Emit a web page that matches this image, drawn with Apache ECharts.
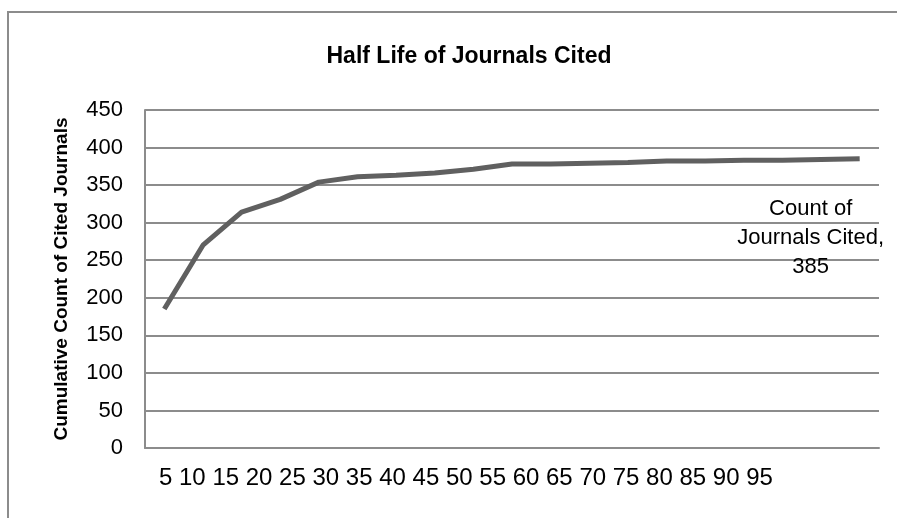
<!DOCTYPE html>
<html>
<head>
<meta charset="utf-8">
<script src="https://cdn.jsdelivr.net/npm/echarts@6/dist/echarts.min.js"></script>
<style>
  html, body { margin: 0; padding: 0; background: #fff; }
  #chart { width: 897px; height: 518px; }
</style>
</head>
<body>
<div id="chart"></div>
<script>
// half life categories (years)
var years = ['5','10','15','20','25','30','35','40','45','50','55','60','65','70','75','80','85','90','95'];
// cumulative count of cited journals
var counts = [185, 270, 314, 331, 354, 361, 363, 366, 371, 378, 378, 379, 380, 382, 382, 383, 383, 384, 385];
var yTicks = [0, 450, 50]; // min, max, interval

var font = "'Liberation Sans', Arial, sans-serif";
var chart = echarts.init(document.getElementById('chart'));

var data = counts.map(function (v, i) {
  if (i !== counts.length - 1) return v;
  // data label on last point, placed below like excel did
  return {
    value: v,
    label: {
      show: true,
      position: 'inside',
      offset: [-49, 79],
      formatter: function (p) { return 'Count of\nJournals Cited,\n' + p.value; },
      fontFamily: font,
      fontSize: 22,
      lineHeight: 29,
      color: '#000',
      align: 'center'
    }
  };
});

var option = {
  backgroundColor: '#fff',
  animation: false,
  title: {
    text: 'Half Life of Journals Cited',
    left: 464,
    top: 40,
    textAlign: 'center',
    textStyle: { fontFamily: font, fontSize: 23, fontWeight: 'bold', color: '#000' }
  },
  grid: { left: 145, right: 18, top: 110, bottom: 70 },
  xAxis: {
    type: 'category',
    data: years,
    boundaryGap: true,
    axisLine: { lineStyle: { color: '#8c8c8c', width: 2 } },
    axisTick: { show: false },
    axisLabel: { show: false }
  },
  yAxis: {
    type: 'value',
    min: yTicks[0],
    max: yTicks[1],
    interval: yTicks[2],
    name: 'Cumulative Count of Cited Journals',
    nameLocation: 'middle',
    nameGap: 74,
    nameTextStyle: { fontFamily: font, fontSize: 19, fontWeight: 'bold', color: '#000' },
    axisLine: { show: true, lineStyle: { color: '#8c8c8c', width: 2 } },
    axisTick: { show: false },
    axisLabel: { fontFamily: font, fontSize: 22, color: '#000', margin: 22 },
    splitLine: { lineStyle: { color: '#8c8c8c', width: 2 } }
  },
  graphic: [
    {
      type: 'rect',
      shape: { x: 8, y: 12, width: 1200, height: 1000 },
      style: { fill: 'none', stroke: '#8c8c8c', lineWidth: 2 },
      z: -1
    },
    {
      // excel squeezed the category labels into one run of text
      type: 'text',
      left: 159,
      top: 466,
      style: { text: years.join(' '), fontFamily: font, fontSize: 24, fill: '#000' }
    }
  ],
  series: [{
    name: 'Count of Journals Cited',
    type: 'line',
    data: data,
    symbol: 'circle',
    symbolSize: 0,
    showSymbol: true,
    lineStyle: { color: '#606060', width: 5 },
    itemStyle: { color: '#606060' }
  }]
};
chart.setOption(option);
</script>
</body>
</html>
